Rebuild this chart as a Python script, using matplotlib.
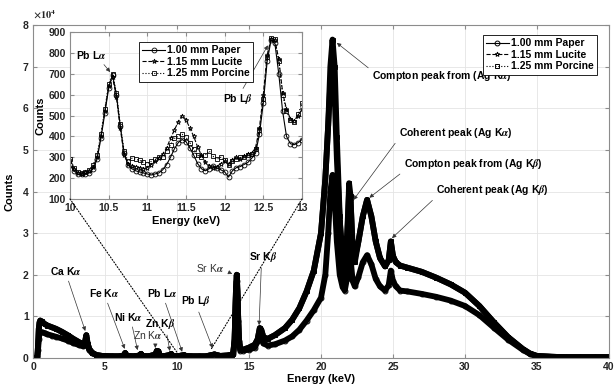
import matplotlib
matplotlib.use("Agg")
import matplotlib.pyplot as plt
from matplotlib.patches import ConnectionPatch

plt.rcParams["font.family"] = ["Liberation Sans", "DejaVu Sans"]
plt.rcParams["font.weight"] = "bold"
plt.rcParams["axes.labelweight"] = "bold"
plt.rcParams["font.size"] = 7.5
plt.rcParams["mathtext.fontset"] = "stix"

# ---- main spectrum (counts in units of 1e4) ----
energy = [0.0, 0.2, 0.3, 0.35, 0.4, 0.45, 0.5, 0.6, 0.8, 1.0,
          1.3, 1.6, 2.0, 2.4, 2.8, 3.2, 3.5, 3.6, 3.7, 3.8,
          3.9, 4.1, 4.4, 4.8, 5.5, 6.0, 6.3, 6.4, 6.5, 7.0,
          7.4, 7.5, 7.6, 8.0, 8.5, 8.6, 8.7, 8.8, 9.0, 9.5,
          9.6, 9.7, 10.0, 10.5, 10.6, 11.0, 11.5, 12.0, 12.6, 13.0,
          13.5, 13.8, 13.9, 14.0, 14.05, 14.1, 14.15, 14.2, 14.25, 14.3,
          14.4, 14.6, 15.0, 15.4, 15.6, 15.75, 15.85, 16.0, 16.3, 16.8,
          17.5, 18.0, 18.5, 19.0, 19.5, 20.0, 20.3, 20.5, 20.65, 20.8,
          20.95, 21.1, 21.3, 21.5, 21.65, 21.8, 21.95, 22.05, 22.2, 22.35,
          22.6, 22.9, 23.2, 23.5, 23.8, 24.1, 24.45, 24.7, 24.85, 25.0,
          25.2, 25.5, 26.0, 27.0, 28.0, 29.0, 30.0, 31.0, 32.0, 33.0,
          34.0, 34.5, 35.0, 36.0, 37.0, 38.0, 39.0, 40.0]

paper = [0.0, 0.0, 0.02, 0.2, 0.45, 0.6, 0.62, 0.62, 0.6, 0.57,
         0.54, 0.51, 0.47, 0.42, 0.36, 0.31, 0.28, 0.32, 0.48, 0.3,
         0.2, 0.12, 0.07, 0.05, 0.04, 0.04, 0.06, 0.12, 0.05, 0.04,
         0.06, 0.1, 0.05, 0.04, 0.08, 0.17, 0.16, 0.06, 0.04, 0.07,
         0.1, 0.05, 0.04, 0.07, 0.05, 0.04, 0.04, 0.04, 0.085, 0.05,
         0.06, 0.08, 0.1, 0.4, 1.0, 1.6, 1.85, 1.5, 0.9, 0.4,
         0.18, 0.18, 0.2, 0.25, 0.4, 0.62, 0.58, 0.35, 0.3, 0.33,
         0.42, 0.52, 0.68, 0.9, 1.15, 1.45, 2.0, 3.0, 4.0, 4.4,
         3.8, 2.8, 2.0, 1.7, 1.62, 1.9, 2.5, 2.4, 1.85, 1.72,
         1.95, 2.3, 2.47, 2.25, 1.9, 1.72, 1.62, 1.75, 2.1, 1.85,
         1.72, 1.62, 1.6, 1.54, 1.47, 1.38, 1.25, 1.03, 0.73, 0.44,
         0.2, 0.1, 0.04, 0.03, 0.02, 0.02, 0.02, 0.02]

lucite = [0.0, 0.0, 0.03, 0.3, 0.7, 0.85, 0.9, 0.88, 0.82, 0.78,
          0.74, 0.7, 0.63, 0.55, 0.46, 0.38, 0.32, 0.36, 0.55, 0.33,
          0.22, 0.13, 0.07, 0.05, 0.04, 0.04, 0.06, 0.12, 0.05, 0.04,
          0.06, 0.1, 0.05, 0.04, 0.08, 0.17, 0.16, 0.06, 0.04, 0.07,
          0.1, 0.05, 0.04, 0.07, 0.05, 0.04, 0.04, 0.04, 0.085, 0.05,
          0.06, 0.08, 0.1, 0.45, 1.1, 1.7, 2.0, 1.6, 0.95, 0.45,
          0.2, 0.2, 0.25, 0.32, 0.45, 0.72, 0.68, 0.5, 0.46, 0.55,
          0.72, 0.92, 1.2, 1.6, 2.1, 3.0, 4.3, 5.6, 6.6, 6.9,
          6.3, 4.8, 3.3, 2.5, 2.4, 2.9, 4.0, 3.8, 2.7, 2.4,
          2.8, 3.4, 3.8, 3.4, 2.8, 2.4, 2.2, 2.35, 2.8, 2.45,
          2.3, 2.22, 2.17, 2.07, 1.93, 1.77, 1.57, 1.25, 0.86, 0.5,
          0.22, 0.11, 0.05, 0.03, 0.02, 0.02, 0.02, 0.02]

porcine = [0.0, 0.0, 0.03, 0.3, 0.7, 0.85, 0.9, 0.88, 0.82, 0.78,
           0.74, 0.7, 0.63, 0.55, 0.46, 0.38, 0.32, 0.36, 0.55, 0.33,
           0.22, 0.13, 0.07, 0.05, 0.04, 0.04, 0.06, 0.12, 0.05, 0.04,
           0.06, 0.1, 0.05, 0.04, 0.08, 0.17, 0.16, 0.06, 0.04, 0.07,
           0.1, 0.05, 0.04, 0.07, 0.05, 0.04, 0.04, 0.04, 0.085, 0.05,
           0.06, 0.08, 0.1, 0.45, 1.1, 1.7, 2.0, 1.6, 0.95, 0.45,
           0.2, 0.2, 0.25, 0.32, 0.45, 0.72, 0.68, 0.5, 0.46, 0.55,
           0.72, 0.92, 1.2, 1.6, 2.1, 3.0, 4.3, 5.6, 7.0, 7.65,
           7.0, 5.3, 3.4, 2.0, 1.75, 2.5, 4.2, 3.9, 2.5, 2.3,
           2.8, 3.4, 3.8, 3.4, 2.8, 2.4, 2.2, 2.35, 2.8, 2.45,
           2.3, 2.22, 2.17, 2.07, 1.93, 1.77, 1.57, 1.25, 0.86, 0.5,
           0.22, 0.11, 0.05, 0.03, 0.02, 0.02, 0.02, 0.02]

# ---- inset: 10-13 keV zoom (raw counts) ----
inset_energy = [10.00, 10.05, 10.10, 10.15, 10.20, 10.25, 10.30, 10.35, 10.40, 10.45,
                10.50, 10.55, 10.60, 10.65, 10.70, 10.75, 10.80, 10.85, 10.90, 10.95,
                11.00, 11.05, 11.10, 11.15, 11.20, 11.25, 11.30, 11.35, 11.40, 11.45,
                11.50, 11.55, 11.60, 11.65, 11.70, 11.75, 11.80, 11.85, 11.90, 11.95,
                12.00, 12.05, 12.10, 12.15, 12.20, 12.25, 12.30, 12.35, 12.40, 12.45,
                12.50, 12.55, 12.60, 12.65, 12.70, 12.75, 12.80, 12.85, 12.90, 12.95,
                13.00]
inset_paper = [265, 235, 220, 218, 222, 225, 245, 290, 390, 510,
               630, 695, 600, 450, 320, 265, 245, 235, 230, 225,
               220, 215, 220, 225, 240, 265, 300, 340, 370, 385,
               375, 345, 310, 270, 245, 235, 245, 260, 250, 240,
               230, 205, 235, 250, 255, 265, 275, 295, 320, 410,
               560, 760, 860, 845, 700, 520, 400, 365, 360, 370,
               385]
inset_lucite = [285, 245, 225, 220, 230, 235, 255, 300, 400, 520,
                640, 685, 590, 440, 310, 270, 260, 255, 250, 245,
                250, 265, 280, 295, 315, 345, 390, 430, 470, 500,
                480, 440, 400, 350, 310, 275, 260, 250, 255, 270,
                280, 270, 285, 300, 290, 305, 315, 320, 345, 440,
                600, 790, 865, 860, 770, 610, 530, 485, 475, 500,
                530]
inset_porcine = [290, 250, 230, 225, 228, 240, 265, 310, 410, 530,
                 650, 700, 610, 460, 330, 280, 295, 290, 285, 275,
                 270, 280, 290, 300, 300, 330, 360, 390, 400, 410,
                 395, 370, 340, 310, 300, 310, 330, 305, 290, 300,
                 285, 265, 280, 290, 300, 300, 310, 315, 340, 430,
                 580, 780, 870, 865, 760, 600, 520, 480, 470, 505,
                 560]

labels = ["1.00 mm Paper", "1.15 mm Lucite", "1.25 mm Porcine"]
markers = ["o", "*", "s"]
styles = ["-", "--", ":"]
main_xticks = [0, 5, 10, 15, 20, 25, 30, 35, 40]
main_yticks = [0, 1, 2, 3, 4, 5, 6, 7, 8]
inset_xticks = [10, 10.5, 11, 11.5, 12, 12.5, 13]
inset_yticks = [100, 200, 300, 400, 500, 600, 700, 800, 900]
SPINE = "#8c8c8c"


def style_axes(a, xt, yt):
    a.set_xticks(xt, labels=[f"{v:g}" for v in xt], fontweight="bold")
    a.set_yticks(yt, labels=[f"{v:g}" for v in yt], fontweight="bold")
    a.grid(color="#e4e4e4", lw=0.6)
    a.set_axisbelow(True)
    a.tick_params(direction="in", length=3, color=SPINE, top=True, right=True,
                  labelcolor="#262626", pad=3)
    for s in a.spines.values():
        s.set_color(SPINE)
        s.set_linewidth(0.8)


def boxed_legend(a, anchor, loc):
    lg = a.legend(loc=loc, bbox_to_anchor=anchor, fontsize=7.5,
                  handlelength=2.2, borderpad=0.3, labelspacing=0.15,
                  handletextpad=0.2, fancybox=False, framealpha=1)
    lg.get_frame().set_edgecolor("k")
    lg.get_frame().set_linewidth(0.6)


fig = plt.figure(figsize=(6.16, 3.87), dpi=100)
ax = fig.add_axes([0.0536, 0.0749, 0.935, 0.8605])

# thick dark band under each series, then the marker trace on top
for series in (paper, lucite, porcine):
    ax.plot(energy, series, color="k", lw=4.2, solid_capstyle="round",
            solid_joinstyle="round")
for series, lab, mk, ls in zip((paper, lucite, porcine), labels, markers, styles):
    ax.plot(energy, series, color="k", ls=ls, lw=0.8, marker=mk, ms=3.5,
            mfc="none", mew=0.7, label=lab)

ax.set_xlim(0, 40)
ax.set_ylim(0, 8)
style_axes(ax, main_xticks, main_yticks)
ax.set_xlabel("Energy (keV)", labelpad=1, fontsize=8)
ax.set_ylabel("Counts", labelpad=6, fontsize=8)
ax.text(0.0, 1.012, r"$\times10^4$", transform=ax.transAxes, fontsize=7.5,
        color="#262626", ha="left", va="bottom")
boxed_legend(ax, (0.988, 0.985), "upper right")

arrow = dict(arrowstyle="-|>", lw=0.5, color="#333333", mutation_scale=6,
             shrinkA=1, shrinkB=0)
# text, arrow tip, text anchor, weight, alignment, arrow start (rel. to text box)
notes = [
    ("Compton peak from (Ag K$\\alpha$)", (21.1, 7.57), (23.55, 6.78), "bold", "left", (0.0, 0.85)),
    ("Coherent peak (Ag K$\\alpha$)", (22.26, 3.8), (25.4, 5.41), "bold", "left", (0.0, 0.1)),
    ("Compton peak from (Ag K$\\beta$)", (23.36, 3.85), (25.75, 4.66), "bold", "left", (0.0, 0.0)),
    ("Coherent peak (Ag K$\\beta$)", (24.93, 2.88), (28.0, 4.04), "bold", "left", (0.0, 0.0)),
    ("Ca K$\\alpha$", (3.63, 0.65), (2.26, 2.09), "bold", "center", (0.55, 0.0)),
    ("Fe K$\\alpha$", (6.37, 0.22), (4.97, 1.56), "bold", "center", (0.55, 0.0)),
    ("Ni K$\\alpha$", (7.26, 0.19), (6.64, 0.99), "bold", "center", (0.6, 0.0)),
    ("Zn K$\\alpha$", (8.49, 0.24), (7.98, 0.55), "normal", "center", (0.75, 0.0)),
    ("Zn K$\\beta$", (9.5, 0.17), (8.84, 0.82), "bold", "center", (0.7, 0.0)),
    ("Pb L$\\alpha$", (10.36, 0.15), (9.0, 1.56), "bold", "center", (0.55, 0.0)),
    ("Pb L$\\beta$", (12.47, 0.24), (11.3, 1.37), "bold", "center", (0.55, 0.0)),
    ("Sr K$\\alpha$", (13.84, 2.02), (12.33, 2.16), "normal", "center", (1.0, 0.3)),
    ("Sr K$\\beta$", (15.7, 0.79), (15.96, 2.43), "bold", "center", (0.45, 0.0)),
]
for txt, tip, pos, wt, ha, rel in notes:
    ax.annotate(txt, xy=tip, xytext=pos, ha=ha, va="center",
                fontweight=wt, fontsize=7.5,
                color="k" if wt == "bold" else "#333333",
                arrowprops=dict(arrow, relpos=rel))

# ---- inset ----
ins = fig.add_axes([0.1136, 0.4858, 0.3766, 0.4315])
for series, lab, mk, ls in zip((inset_paper, inset_lucite, inset_porcine),
                               labels, markers, styles):
    ins.plot(inset_energy, series, color="k", ls=ls, lw=0.8, marker=mk, ms=3.5,
             mfc="none", mew=0.6, label=lab)
ins.set_xlim(10, 13)
ins.set_ylim(100, 900)
style_axes(ins, inset_xticks, inset_yticks)
ins.set_xlabel("Energy (keV)", labelpad=2, fontsize=8)
ins.set_ylabel("Counts", labelpad=2, fontsize=8)
boxed_legend(ins, (0.275, 0.97), "upper left")
ins.annotate("Pb L$\\alpha$", xy=(10.52, 708), xytext=(10.28, 791),
             ha="center", va="center", arrowprops=dict(arrow, relpos=(0.8, 0.0)))
ins.annotate("Pb L$\\beta$", xy=(12.56, 836), xytext=(12.17, 577),
             ha="center", va="center", arrowprops=dict(arrow, relpos=(0.6, 1.0)))

# dotted zoom guides from inset corners down to the spectrum
for (xi, yi), (xm, ym) in [((10, 100), (10.07, 0.1)), ((13, 100), (12.33, 0.19))]:
    con = ConnectionPatch(xyA=(xi, yi), coordsA=ins.transData,
                          xyB=(xm, ym), coordsB=ax.transData,
                          ls=":", lw=0.8, color="k")
    fig.add_artist(con)

fig.savefig("out.png", dpi=100)
